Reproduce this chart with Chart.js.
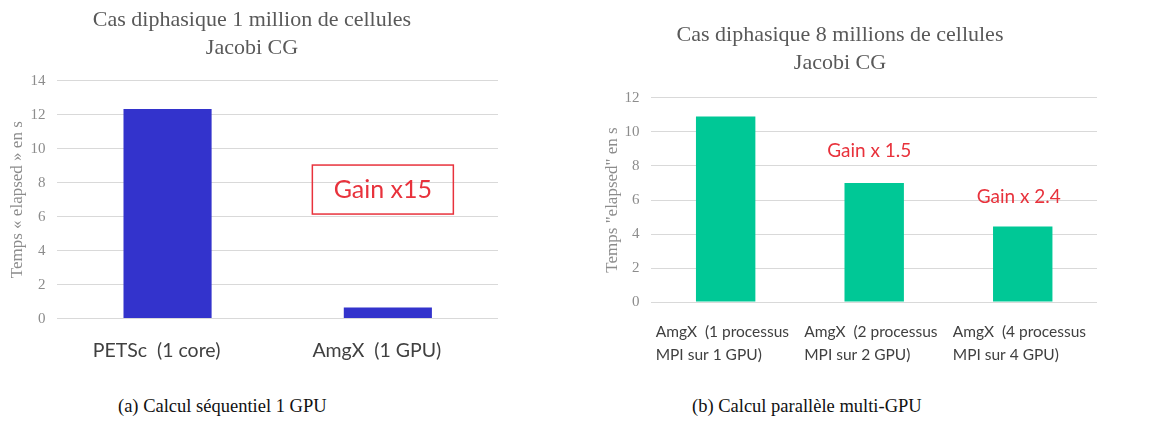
<!DOCTYPE html>
<html>
<head>
<meta charset="utf-8">
<script src="https://cdn.jsdelivr.net/npm/chart.js@4.4.1/dist/chart.umd.min.js"></script>
<style>
  body { margin: 0; background: #fff; width: 1156px; height: 424px; position: relative; overflow: hidden; }
  #boxA { position: absolute; left: 0; top: 0; width: 520px; height: 382px; }
  #boxB { position: absolute; left: 580px; top: 0; width: 576px; height: 384px; }
  .cap { position: absolute; top: 396px; font-family: "Liberation Serif", serif; font-size: 18.5px; color: #111; white-space: nowrap; }
</style>
</head>
<body>
<div id="boxA"><canvas id="chartA"></canvas></div>
<div id="boxB"><canvas id="chartB"></canvas></div>
<div class="cap" style="left:118px">(a) Calcul séquentiel 1 GPU</div>
<div class="cap" style="left:692px">(b) Calcul parallèle multi-GPU</div>

<script>
// (a) sequential, 1 million cells
var seqLabels = ['PETSc  (1 core)', 'AmgX  (1 GPU)'];
var seqTimes = [12.35, 0.65];
var seqTitle = ['Cas diphasique 1 million de cellules', 'Jacobi CG'];
var seqGain = ['Gain x15'];

// (b) multi-GPU, 8 million cells
var parLabels = [
  ['AmgX  (1 processus', 'MPI sur 1 GPU)'],
  ['AmgX  (2 processus', 'MPI sur 2 GPU)'],
  ['AmgX  (4 processus', 'MPI sur 4 GPU)']
];
var parTimes = [10.9, 7.0, 4.45];
var parTitle = ['Cas diphasique 8 millions de cellules', 'Jacobi CG'];
var parGain = ['Gain x 1.5', 'Gain x 2.4'];

var RED = '#e8323c';

// red "Gain" notes, placed with the chart's own scales
var notesPlugin = {
  id: 'notes',
  afterDatasetsDraw: function (chart, args, opts) {
    var ctx = chart.ctx;
    var xs = chart.scales.x, ys = chart.scales.y;
    (opts.items || []).forEach(function (n) {
      var x = xs.getPixelForValue(n.index) + (n.dx || 0);
      var y = ys.getPixelForValue(n.value);
      ctx.save();
      ctx.font = n.size + 'px Lato';
      ctx.fillStyle = RED;
      ctx.textAlign = 'center';
      ctx.textBaseline = 'middle';
      ctx.fillText(n.text, x, y);
      if (n.box) {
        ctx.strokeStyle = RED;
        ctx.lineWidth = 1.5;
        ctx.strokeRect(x - n.box[0] / 2, y - n.box[1] / 2, n.box[0], n.box[1]);
      }
      ctx.restore();
    });
  }
};

var serif = 'Liberation Serif';

new Chart(document.getElementById('chartA'), {
  type: 'bar',
  data: {
    labels: seqLabels,
    datasets: [{
      data: seqTimes,
      backgroundColor: '#3333cc',
      barPercentage: 0.4,
      categoryPercentage: 1
    }]
  },
  plugins: [notesPlugin],
  options: {
    responsive: true,
    maintainAspectRatio: false,
    animation: false,
    layout: { padding: { left: 6, right: 22, top: 0, bottom: 0 } },
    plugins: {
      legend: { display: false },
      tooltip: { enabled: false },
      title: {
        display: true,
        text: seqTitle,
        color: '#595959',
        font: { family: serif, size: 22, weight: 'normal', lineHeight: 1.27 },
        padding: { top: 6, bottom: 19 }
      },
      notes: {
        items: [{ index: 1, dx: -5, value: 7.6, text: seqGain[0], size: 25, box: [141, 49] }]
      }
    },
    scales: {
      x: {
        grid: { display: false, drawTicks: false },
        border: { display: false },
        ticks: { color: '#404040', font: { family: 'Lato', size: 19.5 }, padding: 20, labelOffset: -11 }
      },
      y: {
        min: 0,
        max: 14,
        ticks: { stepSize: 2, color: '#8c8c8c', font: { family: serif, size: 15 }, padding: 12 },
        grid: { color: '#d9d9d9', drawTicks: false },
        border: { display: false },
        title: {
          display: true,
          text: 'Temps « elapsed » en s',
          color: '#8c8c8c',
          font: { family: serif, size: 17 },
          padding: { top: 1, bottom: -9 }
        }
      }
    }
  }
});

new Chart(document.getElementById('chartB'), {
  type: 'bar',
  data: {
    labels: parLabels,
    datasets: [{
      data: parTimes,
      backgroundColor: '#00c896',
      barPercentage: 0.4,
      categoryPercentage: 1
    }]
  },
  plugins: [notesPlugin],
  options: {
    responsive: true,
    maintainAspectRatio: false,
    animation: false,
    layout: { padding: { left: 3, right: 59, top: 0, bottom: 0 } },
    plugins: {
      legend: { display: false },
      tooltip: { enabled: false },
      title: {
        display: true,
        text: parTitle,
        color: '#595959',
        font: { family: serif, size: 22, weight: 'normal', lineHeight: 1.27 },
        padding: { top: 21, bottom: 21 }
      },
      notes: {
        items: [
          { index: 1, dx: -5, value: 8.9, text: parGain[0], size: 19 },
          { index: 2, dx: -4, value: 6.2, text: parGain[1], size: 19 }
        ]
      }
    },
    scales: {
      x: {
        grid: { display: false, drawTicks: false },
        border: { display: false },
        ticks: {
          color: '#404040',
          font: { family: 'Lato', size: 15.5, lineHeight: 1.48 },
          padding: 18,
          align: 'start',
          labelOffset: -70
        },
        // labels are shifted back by labelOffset, so no extra side room is needed
        afterFit: function (scale) {
          scale.paddingLeft = 0;
          scale.paddingRight = 0;
        }
      },
      y: {
        min: 0,
        max: 12,
        ticks: { stepSize: 2, color: '#8c8c8c', font: { family: serif, size: 15 }, padding: 12 },
        grid: { color: '#d9d9d9', drawTicks: false },
        border: { display: false },
        title: {
          display: true,
          text: 'Temps "elapsed" en s',
          color: '#8c8c8c',
          font: { family: serif, size: 17 },
          padding: { top: 19, bottom: -10 }
        }
      }
    }
  }
});
</script>
</body>
</html>
